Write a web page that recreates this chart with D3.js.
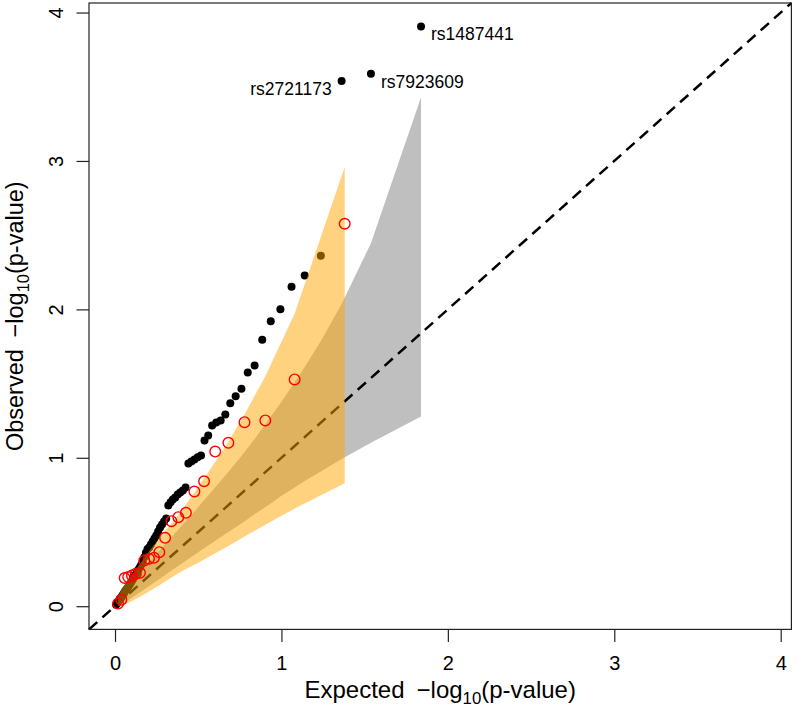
<!DOCTYPE html>
<html>
<head>
<meta charset="utf-8">
<script src="https://cdn.jsdelivr.net/npm/d3@7"></script>
<style>
  html, body { margin: 0; padding: 0; background: #fff; }
  svg { display: block; }
  text { font-family: "Liberation Sans", Arial, Helvetica, sans-serif; fill: #000; }
</style>
</head>
<body>
<svg id="chart" width="797" height="709"></svg>
<script>
// ---------- DATA ----------
const tickValues = [0, 1, 2, 3, 4];

// black series: expected and observed -log10(p)
const blackExpected = [1.8388, 1.5378, 1.3617, 1.2368, 1.1399, 1.0607, 0.9938, 0.9358, 0.8846, 0.8388,
  0.7975, 0.7597, 0.7249, 0.6927, 0.6628, 0.6348, 0.6084, 0.5836, 0.5601, 0.5378,
  0.5166, 0.4964, 0.4771, 0.4586, 0.4409, 0.4239, 0.4075, 0.3917, 0.3765, 0.3617,
  0.3475, 0.3337, 0.3203, 0.3074, 0.2948, 0.2825, 0.2707, 0.2591, 0.2478, 0.2368,
  0.2261, 0.2156, 0.2054, 0.1954, 0.1856, 0.1761, 0.1668, 0.1576, 0.1486, 0.1399,
  0.1313, 0.1228, 0.1146, 0.1065, 0.0985, 0.0906, 0.0830, 0.0754, 0.0680, 0.0607,
  0.0535, 0.0465, 0.0395, 0.0327, 0.0260, 0.0193, 0.0128, 0.0063];
const blackObserved = [3.906, 3.588, 3.538, 2.361, 2.228, 2.152, 2.001, 1.920, 1.795, 1.622,
  1.575, 1.465, 1.415, 1.368, 1.292, 1.251, 1.238, 1.218, 1.151, 1.117,
  1.016, 1.003, 0.989, 0.975, 0.962, 0.800, 0.780, 0.766, 0.753, 0.733,
  0.719, 0.700, 0.679, 0.591, 0.571, 0.551, 0.530, 0.503, 0.476, 0.456,
  0.436, 0.416, 0.396, 0.385, 0.360, 0.330, 0.300, 0.280, 0.260, 0.245,
  0.225, 0.210, 0.195, 0.180, 0.165, 0.150, 0.137, 0.124, 0.112, 0.100,
  0.088, 0.076, 0.064, 0.053, 0.042, 0.031, 0.020, 0.010];

// red series
const redExpected = [1.3802, 1.0792, 0.9031, 0.7782, 0.6812, 0.6021, 0.5351, 0.4771, 0.4260, 0.3802,
  0.3388, 0.3010, 0.2663, 0.2341, 0.2041, 0.1761, 0.1498, 0.1249, 0.1015, 0.0792,
  0.0580, 0.0378, 0.0185];
const redObserved = [2.577, 1.528, 1.252, 1.240, 1.101, 1.042, 0.842, 0.773, 0.629, 0.600,
  0.573, 0.461, 0.364, 0.326, 0.319, 0.308, 0.225, 0.218, 0.207, 0.196,
  0.190, 0.043, 0.018];

// labelled SNPs (rank in black series)
const snpNames = ["rs1487441", "rs7923609", "rs2721173"];
const snpRanks = [0, 1, 2];
const snpSides = ["right", "right", "left"];

// gray confidence band (black series)
const grayX     = [1.8388, 1.5378, 1.3617, 1.2368, 1.1399, 1.0607, 0.9938, 0.9358, 0.8388, 0.7597,
  0.6628, 0.5378, 0.4409, 0.3617, 0.2948, 0.2368, 0.1856, 0.1399, 0.0985, 0.0607,
  0.0327, 0.0193, 0.0128, 0.0063];
const grayUpper = [3.4292, 2.446, 2.0365, 1.787, 1.612, 1.477, 1.368, 1.2775, 1.126, 1.0115,
  0.8803, 0.7169, 0.5929, 0.4929, 0.4086, 0.3361, 0.2719, 0.2142, 0.1612, 0.109,
  0.0673, 0.0461, 0.0358, 0.0236];
const grayLower = [1.2774, 1.1013, 0.991, 0.908, 0.843, 0.787, 0.740, 0.692, 0.619, 0.557,
  0.4864, 0.3926, 0.3183, 0.2569, 0.2051, 0.1601, 0.1207, 0.0860, 0.0556, 0.0287,
  0.0107, 0.0040, 0.0016, 0.0002];

// orange confidence band (red series)
const orangeX     = redExpected;
const orangeUpper = [2.9585, 1.971, 1.550, 1.292, 1.108, 0.972, 0.860, 0.766, 0.685, 0.615,
  0.556, 0.505, 0.458, 0.413, 0.370, 0.325, 0.284, 0.246, 0.211, 0.177,
  0.144, 0.108, 0.070];
const orangeLower = [0.8292, 0.6586, 0.548, 0.470, 0.405, 0.357, 0.315, 0.280, 0.250, 0.222,
  0.193, 0.1665, 0.142, 0.1198, 0.0994, 0.0807, 0.0637, 0.0483, 0.0345, 0.0225,
  0.0123, 0.0047, 0.0005];

// ---------- DRAWING ----------
const svg = d3.select("#chart");
const plot = { left: 89, right: 791.4, top: 3, bottom: 629.4 };
const domain = [-0.1563, 4.0643];
const x = d3.scaleLinear().domain(domain).range([plot.left, plot.right]);
const y = d3.scaleLinear().domain(domain).range([plot.bottom, plot.top]);

const band = (xs, up, lo) => {
  const pts = xs.map((v, i) => [x(v), y(up[i])]).concat(xs.map((v, i) => [x(v), y(lo[i])]).reverse());
  return d3.line()(pts) + "Z";
};

// gray band
svg.append("path").attr("d", band(grayX, grayUpper, grayLower))
  .attr("fill", "rgba(128,128,128,0.5)").attr("stroke", "none");

// diagonal dashed line
svg.append("line")
  .attr("x1", x(domain[0])).attr("y1", y(domain[0]))
  .attr("x2", x(domain[1])).attr("y2", y(domain[1]))
  .attr("stroke", "#000").attr("stroke-width", 2.5).attr("stroke-dasharray", "11,7");

// black points
svg.append("g").selectAll("circle").data(blackExpected).join("circle")
  .attr("cx", d => x(d)).attr("cy", (d, i) => y(blackObserved[i]))
  .attr("r", 4.0).attr("fill", "#000");

// orange band
svg.append("path").attr("d", band(orangeX, orangeUpper, orangeLower))
  .attr("fill", "rgba(255,165,0,0.5)").attr("stroke", "none");

// red open circles
svg.append("g").selectAll("circle").data(redExpected).join("circle")
  .attr("cx", d => x(d)).attr("cy", (d, i) => y(redObserved[i]))
  .attr("r", 5.3).attr("fill", "none").attr("stroke", "#ff0000").attr("stroke-width", 1.4);

// SNP labels
svg.append("g").selectAll("text").data(snpNames).join("text")
  .attr("x", (d, i) => x(blackExpected[snpRanks[i]]) + (snpSides[i] === "right" ? 10 : -10))
  .attr("y", (d, i) => y(blackObserved[snpRanks[i]]) + 14)
  .attr("text-anchor", (d, i) => snpSides[i] === "right" ? "start" : "end")
  .attr("font-size", 17.5)
  .text(d => d);

// box
svg.append("rect").attr("x", plot.left).attr("y", plot.top)
  .attr("width", plot.right - plot.left).attr("height", plot.bottom - plot.top)
  .attr("fill", "none").attr("stroke", "#222").attr("stroke-width", 1.2);

// x axis
const gx = svg.append("g").attr("transform", `translate(0,${plot.bottom})`)
  .call(d3.axisBottom(x).tickValues(tickValues).tickFormat(d3.format("d")).tickSize(12.5).tickSizeOuter(0));
gx.select(".domain").remove();
gx.selectAll(".tick line").attr("stroke", "#222").attr("stroke-width", 1.2);
gx.selectAll(".tick text").attr("y", 41).attr("dy", null).attr("font-size", 20)
  .attr("font-family", "Liberation Sans, Arial, sans-serif").attr("fill", "#000");

// y axis
const gy = svg.append("g").attr("transform", `translate(${plot.left},0)`)
  .call(d3.axisLeft(y).tickValues(tickValues).tickFormat(d3.format("d")).tickSize(12.5).tickSizeOuter(0));
gy.select(".domain").remove();
gy.selectAll(".tick line").attr("stroke", "#222").attr("stroke-width", 1.2);
gy.selectAll(".tick text").attr("x", null).attr("dy", null)
  .attr("transform", "translate(-26,0) rotate(-90)")
  .attr("text-anchor", "middle").attr("font-size", 20)
  .attr("font-family", "Liberation Sans, Arial, sans-serif").attr("fill", "#000");

// axis titles with subscript
function title(g, prefix, size) {
  const t = g.append("text").attr("text-anchor", "middle").attr("font-size", size);
  t.append("tspan").text(prefix + "\u2002\u2212log");
  t.append("tspan").attr("font-size", size * 0.7).attr("dy", size * 0.25).text("10");
  t.append("tspan").attr("dy", -size * 0.25).text("(p-value)");
  return t;
}
title(svg.append("g").attr("transform", `translate(${(plot.left + plot.right) / 2},698)`), "Expected", 24);
title(svg.append("g").attr("transform", `translate(23,${(plot.top + plot.bottom) / 2}) rotate(-90)`), "Observed", 23.5);
</script>
</body>
</html>
